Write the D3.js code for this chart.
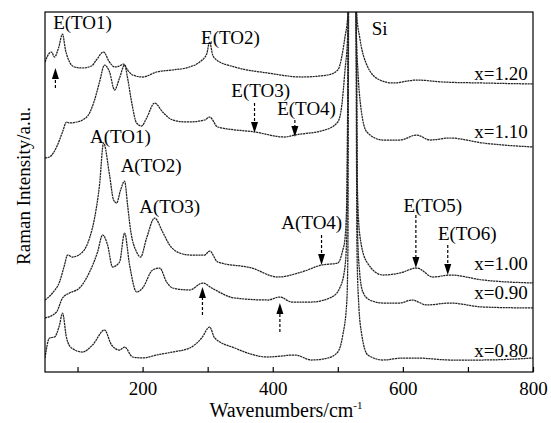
<!DOCTYPE html>
<html>
<head>
<meta charset="utf-8">
<script src="https://cdn.jsdelivr.net/npm/d3@7"></script>
<style>
body { margin: 0; background: #fff; }
text { font-family: "Liberation Serif", "Times New Roman", serif; fill: #000; }
</style>
</head>
<body>
<div id="chart"></div>
<script>
// spectra: [wavenumber cm-1, intensity a.u.]
const s120 = [[50,310],[56.9,319],[60,320],[64.6,315],[70.8,324],[76.9,338],[81.5,322],[87.7,310],[95.4,305],
  [107.7,304],[121.5,306],[129,312],[140,320],[149,310],[157,305],[164.6,306],[170.8,308],[177,302],[184.6,297],
  [200,295],[221.5,300],[246,302],[272,305],[287.7,310],[298.5,318],[303,330],[307.7,317],[313.8,312],[341.5,305],
  [392.3,299],[444.6,295],[484.6,297],[500,302],[510.8,334],[515.4,357],[521.5,900],[529.2,357],[533.8,334],
  [544.6,307],[564.6,292],[584.6,289],[621.5,292],[661.5,290],[723,289],[800,288]];
const s110 = [[50,214],[56.9,215],[69.2,227],[76.9,240],[83.1,250],[87.7,249],[98.5,250],[107.7,252],[118.5,259],
  [126.2,272],[133.8,290],[141.5,307],[149.2,300],[156.9,282],[164.6,294],[172.3,307],[176.9,294],[183.1,270],
  [190.8,249],[198.5,246],[206.2,254],[218.5,269],[230.8,260],[246.2,252],[267.7,250],[295.4,252],[303,255],
  [315.4,245],[372.3,240],[418.5,235],[433.8,237],[480,242],[500,250],[506.2,267],[510.8,300],[515.4,340],
  [521.5,900],[528.5,340],[531,300],[535,267],[544.6,240],[569.2,232],[595.4,232],[621.5,237],[641.5,232],
  [672.3,234],[723,229],[800,225]];
const s100 = [[50,72],[61.5,79],[72.3,90],[80,107],[84.6,117],[92.3,115],[107.7,120],[118.5,134],[126.2,154],
  [133.8,187],[140,229],[149.2,197],[155.4,172],[160,169],[166.2,182],[172.3,191],[176.9,167],[181.5,142],
  [190.8,120],[196.9,115],[206.2,134],[218.5,154],[230.8,140],[241.5,127],[256.9,119],[272.3,117],[295.4,117],
  [303,121],[315.4,110],[367.7,104],[407.7,95],[444.6,100],[475.4,107],[500,109],[507.7,122],[510.8,132],
  [513.5,165],[516,340],[521.5,900],[528.5,340],[530,187],[533.8,137],[544.6,110],[569.2,97],[595.4,99],
  [621.5,104],[646.2,95],[672.3,97],[723,92],[800,89]];
const s090 = [[50,54],[67.7,60],[76.9,74],[87.7,79],[103,84],[118.5,100],[130.8,120],[138.5,137],[146.2,127],
  [153.8,105],[164.6,110],[172.3,139],[180,107],[190.8,80],[200,84],[215.4,102],[226.2,104],[236.9,90],
  [246.2,84],[272.3,82],[292.3,89],[306.2,84],[341.5,74],[392.3,72],[410.8,75],[429.2,70],[460,70],[490.8,75],
  [503,84],[510.8,104],[514,140],[516,340],[521.5,900],[528.5,340],[530.5,137],[533,104],[538.5,80],
  [549.2,72],[569.2,69],[595.4,69],[613.8,72],[636.9,67],[672.3,69],[723,65],[800,64]];
const s080 = [[50,14],[56.9,34],[64.6,35],[72.3,47],[76.9,59],[83.1,34],[90.8,24],[107.7,20],[123.1,27],
  [141.5,42],[152.3,27],[164.6,22],[172.3,25],[184.6,15],[200,14],[221.5,17],[246.2,20],[272.3,24],[290.8,34],
  [303,45],[310.8,34],[341.5,24],[392.3,15],[433.8,17],[460,12],[484.6,14],[500,20],[507.7,37],[513.8,70],
  [515.5,120],[516.5,340],[521.5,900],[528,340],[529.5,122],[532,70],[536.9,37],[546.2,17],[569.2,12],
  [600,14],[621.5,14],[672.3,12],[723,12],[800,14]];

const spectra = [s120, s110, s100, s090, s080];
const sampleNames = ["x=1.20", "x=1.10", "x=1.00", "x=0.90", "x=0.80"];
const sampleLabelInt = [292, 234, 102, 73, 15];

const xTicks = [100, 200, 300, 400, 500, 600, 700, 800];
const xTickLabels = [200, 400, 600, 800];

// mode labels: [text, wavenumber, intensity]
const modeLabels = [["E(TO1)",107.7,343],["E(TO2)",335,328],["E(TO3)",381.5,275],["E(TO4)",452,257],
  ["A(TO1)",166,229],["A(TO2)",213,200],["A(TO3)",241.5,159],["A(TO4)",460,143],
  ["E(TO5)",646,160],["E(TO6)",699,132]];
// arrows: [wavenumber, tail intensity, tip intensity]
const arrows = [[66,284,304],[372,269,239],[434,252,235],[475,137,107],[620,157,104],[669,127,97],
  [292,57,85],[411,40,69]];

const width = 551;
const height = 423;
const margin = {top: 12, left: 45, right: 18, bottom: 51};

const svg = d3.select("#chart")
    .append("svg")
    .attr("width", width)
    .attr("height", height);

const xScale = d3.scaleLinear()
    .domain([50, 800])
    .range([margin.left, width - margin.right]);
const yScale = d3.scaleLinear()
    .domain([0, 360])
    .range([height - margin.bottom, margin.top]);

svg.append("clipPath")
    .attr("id", "plot")
    .append("rect")
    .attr("x", margin.left)
    .attr("y", margin.top)
    .attr("width", width - margin.left - margin.right)
    .attr("height", height - margin.top - margin.bottom);

const line = d3.line()
    .x(function(d) { return xScale(d[0]); })
    .y(function(d) { return yScale(d[1]); })
    .curve(d3.curveMonotoneX);

svg.append("g")
    .attr("clip-path", "url(#plot)")
    .selectAll("path")
    .data(spectra)
    .enter()
    .append("path")
        .attr("d", line)
        .attr("fill", "none")
        .attr("stroke", "#222")
        .attr("stroke-width", 1.25)
        .attr("stroke-dasharray", "2.2,0.6");

// frame
svg.append("rect")
    .attr("x", margin.left)
    .attr("y", margin.top)
    .attr("width", width - margin.left - margin.right)
    .attr("height", height - margin.top - margin.bottom)
    .attr("fill", "none")
    .attr("stroke", "#000")
    .attr("stroke-width", 1.2);

const xAxis = svg.append("g")
    .attr("transform", `translate(0,${height - margin.bottom})`)
    .call(d3.axisBottom(xScale)
        .tickValues(xTicks)
        .tickSizeInner(-5)
        .tickSizeOuter(0)
        .tickPadding(9.5)
        .tickFormat(function(d) { return xTickLabels.includes(d) ? d : ""; }));
xAxis.select(".domain").remove();
xAxis.selectAll("line").attr("stroke", "#000").attr("stroke-width", 1.2);
xAxis.selectAll("text")
    .attr("fill", "#000")
    .style("font-size", "19px")
    .style("font-family", "'Liberation Serif', 'Times New Roman', serif");

const xLabel = svg.append("text")
    .attr("x", 286)
    .attr("y", 417)
    .attr("text-anchor", "middle")
    .style("font-size", "20px");
xLabel.append("tspan").text("Wavenumbers/cm");
xLabel.append("tspan")
    .attr("dy", -8)
    .style("font-size", "11px")
    .text("-1");

svg.append("text")
    .attr("transform", "rotate(-90)")
    .attr("x", -186)
    .attr("y", 30)
    .attr("text-anchor", "middle")
    .style("font-size", "19px")
    .text("Raman Intensity/a.u.");

svg.selectAll(".mode")
    .data(modeLabels)
    .enter()
    .append("text")
        .attr("class", "mode")
        .attr("x", function(d) { return xScale(d[1]); })
        .attr("y", function(d) { return yScale(d[2]); })
        .attr("text-anchor", "middle")
        .style("font-size", "19px")
        .text(function(d) { return d[0]; });

svg.append("text")
    .attr("x", xScale(552))
    .attr("y", yScale(337))
    .style("font-size", "19px")
    .text("Si");

svg.selectAll(".sample")
    .data(sampleNames)
    .enter()
    .append("text")
        .attr("class", "sample")
        .attr("x", xScale(792))
        .attr("y", function(d, i) { return yScale(sampleLabelInt[i]); })
        .attr("text-anchor", "end")
        .style("font-size", "19px")
        .text(function(d) { return d; });

// arrows: dashed shaft with filled head
const headLen = 11;
const arrow = svg.selectAll(".arrow")
    .data(arrows)
    .enter()
    .append("g")
    .attr("class", "arrow");
arrow.append("line")
    .attr("x1", function(d) { return xScale(d[0]); })
    .attr("x2", function(d) { return xScale(d[0]); })
    .attr("y1", function(d) { return yScale(d[1]); })
    .attr("y2", function(d) {
        const dir = d[2] > d[1] ? 1 : -1;
        return yScale(d[2]) + dir * headLen;
    })
    .attr("stroke", "#000")
    .attr("stroke-width", 1.2)
    .attr("stroke-dasharray", "3,2");
arrow.append("path")
    .attr("d", function(d) {
        const cx = xScale(d[0]);
        const ty = yScale(d[2]);
        const dir = d[2] > d[1] ? 1 : -1;
        return `M${cx},${ty}L${cx - 3.5},${ty + dir * headLen}L${cx + 3.5},${ty + dir * headLen}Z`;
    })
    .attr("fill", "#000");
</script>
</body>
</html>
